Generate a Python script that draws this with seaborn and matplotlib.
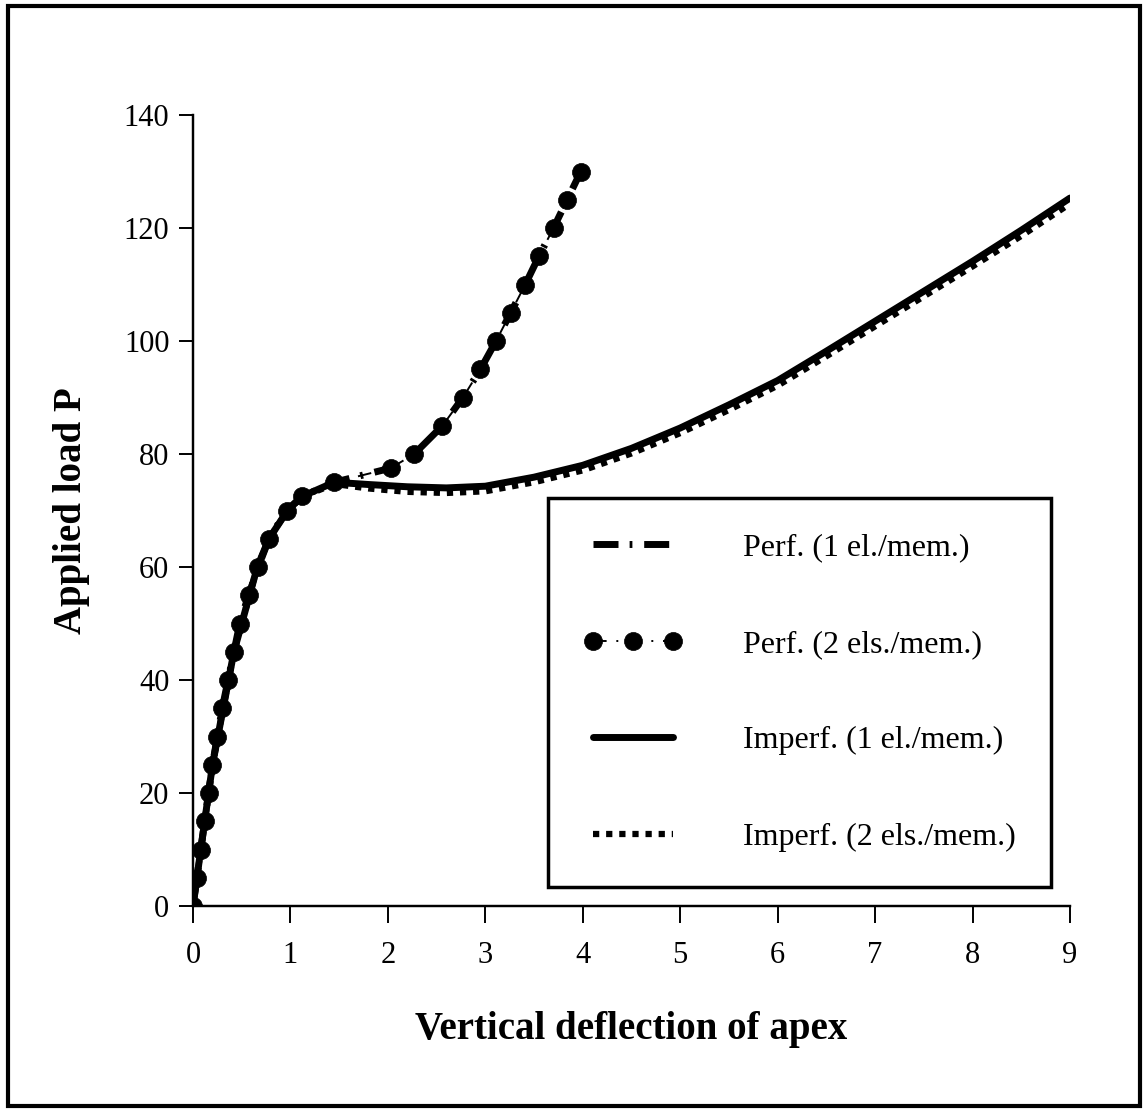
import numpy as np
import pandas as pd
import matplotlib
matplotlib.use("Agg")
import matplotlib.pyplot as plt
import seaborn as sns
from matplotlib.patches import Rectangle

# ---------------- data ----------------
perf1_x = [0, 0.04, 0.08, 0.12, 0.16, 0.20, 0.25, 0.30, 0.36, 0.42, 0.48, 0.57, 0.67,
           0.78, 0.96, 1.12, 1.45, 2.03, 2.27, 2.56, 2.77, 2.95, 3.11, 3.26, 3.41,
           3.55, 3.70, 3.84, 3.98]
perf1_y = [0, 5, 10, 15, 20, 25, 30, 35, 40, 45, 50, 55, 60, 65, 70, 72.5, 75, 77.5,
           80, 85, 90, 95, 100, 105, 110, 115, 120, 125, 130]

perf2_x = [0, 0.04, 0.08, 0.12, 0.16, 0.20, 0.25, 0.30, 0.36, 0.42, 0.48, 0.57, 0.67,
           0.78, 0.96, 1.12, 1.45, 2.03, 2.27, 2.56, 2.77, 2.95, 3.11, 3.26, 3.41,
           3.55, 3.70, 3.84, 3.98]
perf2_y = [0, 5, 10, 15, 20, 25, 30, 35, 40, 45, 50, 55, 60, 65, 70, 72.5, 75, 77.5,
           80, 85, 90, 95, 100, 105, 110, 115, 120, 125, 130]

imp1_x = [0, 0.2, 0.42, 0.66, 0.78, 0.97, 1.12, 1.45, 1.8, 2.2, 2.6, 3.0, 3.5, 4.0,
          4.5, 5.0, 5.5, 6.0, 6.5, 7.0, 7.5, 8.0, 8.5, 9.0]
imp1_y = [0, 25, 45, 60, 65, 70, 72.5, 75, 74.6, 74.2, 74.0, 74.3, 75.9, 78.0, 81.0,
          84.6, 88.7, 93.0, 98.2, 103.5, 108.8, 114.1, 119.6, 125.3]

imp2_x = [0, 0.2, 0.42, 0.66, 0.78, 0.97, 1.12, 1.45, 1.8, 2.2, 2.6, 3.0, 3.5, 4.0,
          4.5, 5.0, 5.5, 6.0, 6.5, 7.0, 7.5, 8.0, 8.5, 9.0]
imp2_y = [0, 25, 45, 60, 65, 70, 72.4, 74.7, 73.9, 73.3, 73.1, 73.4, 75.0, 77.1, 80.1,
          83.7, 87.8, 92.1, 97.3, 102.6, 107.9, 113.2, 118.6, 124.3]

labels = ["Perf. (1 el./mem.)", "Perf. (2 els./mem.)",
          "Imperf. (1 el./mem.)", "Imperf. (2 els./mem.)"]
x_ticks = [0, 1, 2, 3, 4, 5, 6, 7, 8, 9]
y_ticks = [0, 20, 40, 60, 80, 100, 120, 140]

# ---------------- style ----------------
sns.set_theme(style="ticks")
plt.rcParams["font.family"] = ["Liberation Serif", "DejaVu Serif"]
plt.rcParams["text.color"] = "black"
plt.rcParams["axes.labelcolor"] = "black"
plt.rcParams["xtick.color"] = "black"
plt.rcParams["ytick.color"] = "black"
plt.rcParams["axes.edgecolor"] = "black"

W, H = 1146, 1113
fig = plt.figure(figsize=(W / 100, H / 100), dpi=100)
fig.patch.set_facecolor("white")
ax = fig.add_axes([193 / W, 1 - 906 / H, 877 / W, 791 / H])
ax.set_facecolor("white")

def frame(xs, ys):
    return pd.DataFrame({"x": xs, "y": ys})

sns.lineplot(data=frame(perf1_x, perf1_y), x="x", y="y", ax=ax, sort=False,
             estimator=None, color="black", lw=5,
             linestyle=(0, (3.6, 1.6, 0.4, 1.7)), label=labels[0], zorder=2)
sns.lineplot(data=frame(perf2_x, perf2_y), x="x", y="y", ax=ax, sort=False,
             estimator=None, color="black", lw=1.4,
             linestyle=(0, (7, 5, 1, 5)), marker="o", markersize=13,
             markeredgecolor="black", markerfacecolor="black", markeredgewidth=0.5,
             label=labels[1], zorder=5)
sns.lineplot(data=frame(imp1_x, imp1_y), x="x", y="y", ax=ax, sort=False,
             estimator=None, color="black", lw=5, linestyle="-",
             label=labels[2], zorder=4)
sns.lineplot(data=frame(imp2_x, imp2_y), x="x", y="y", ax=ax, sort=False,
             estimator=None, color="black", lw=4.5,
             linestyle=(0, (1, 1.1)), label=labels[3], zorder=3)

ax.set_xlim(0, 9)
ax.set_ylim(0, 140)
ax.set_xticks(x_ticks)
ax.set_yticks(y_ticks)
ax.set_xticklabels([str(v) for v in x_ticks])
ax.set_yticklabels([str(v) for v in y_ticks])

for s in ["top", "right"]:
    ax.spines[s].set_visible(False)
for s in ["left", "bottom"]:
    ax.spines[s].set_linewidth(1.75)
    ax.spines[s].set_color("black")

ax.tick_params(axis="y", direction="out", length=10, width=1.4, pad=7,
               labelsize=22, colors="black")
ax.tick_params(axis="x", direction="out", length=12, width=1.4, pad=13,
               labelsize=22, colors="black")

ax.set_xlabel("Vertical deflection of apex", fontsize=28, fontweight="bold",
              color="black")
ax.set_ylabel("Applied load P", fontsize=28, fontweight="bold", color="black")
ax.xaxis.set_label_coords(0.5, -0.168)
ax.xaxis.label.set_va("baseline")
ax.yaxis.set_label_coords(-0.117, 0.5)

handles = ax.get_lines()[:4]
leg = ax.legend(handles=handles, labels=labels, loc="upper left",
                bbox_to_anchor=(0.4048, 0.5158), borderaxespad=0,
                fontsize=23, frameon=True, fancybox=False, shadow=False,
                framealpha=1, edgecolor="black", borderpad=1.1,
                handlelength=3.1, handletextpad=1.9, labelspacing=2.1,
                numpoints=3)
leg.get_frame().set_linewidth(2.5)
leg.set_zorder(10)
for t in leg.get_texts():
    t.set_color("black")

# outer figure border
fig.add_artist(Rectangle((8 / W, 1 - 1106 / H), (1140 - 8) / W, (1106 - 6) / H,
                         transform=fig.transFigure, fill=False,
                         edgecolor="black", linewidth=3))

fig.savefig("out.png", dpi=100, facecolor="white")
